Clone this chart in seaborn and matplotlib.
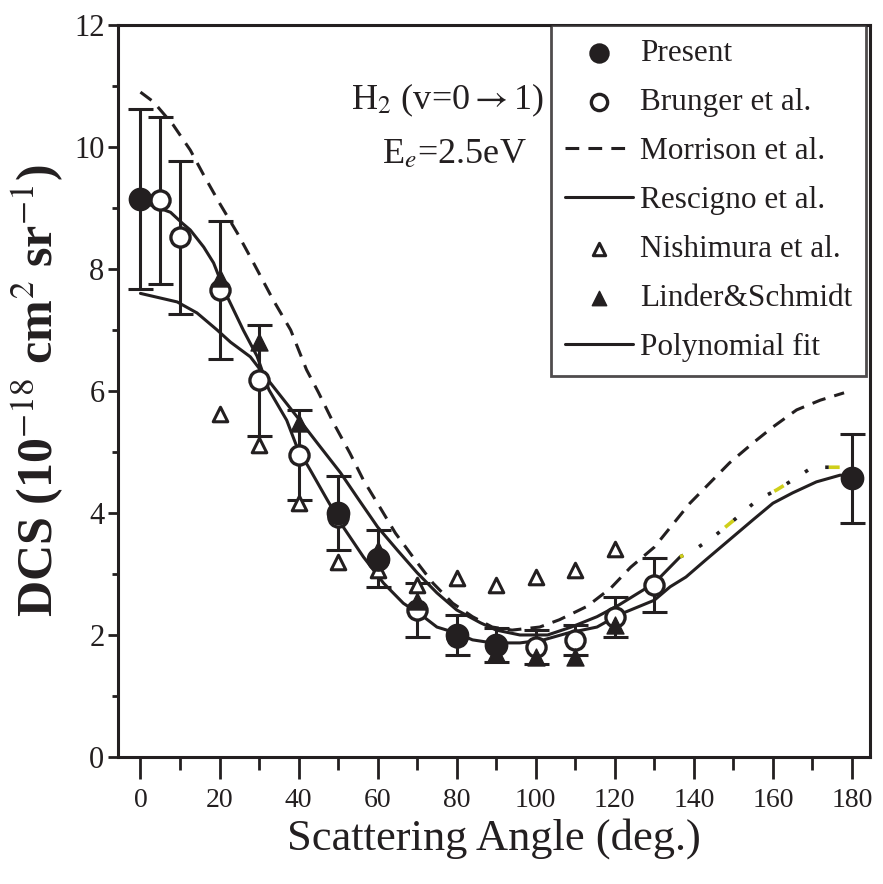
import numpy as np
import pandas as pd
import matplotlib
matplotlib.use("Agg")
import matplotlib.pyplot as plt
import seaborn as sns
from matplotlib.ticker import MultipleLocator

INK = "#231f20"
nan = np.nan

# Present (filled circles, with error bars)
present_angle = [0, 50, 60, 80, 90, 180]
present_dcs = [9.15, 4.0, 3.25, 2.0, 1.83, 4.57]
present_err = [1.47, 0.6, 0.47, 0.33, 0.28, 0.73]

# Brunger et al. (open circles)
brunger_angle = [5, 10, 20, 30, 40, 50, 60, 70, 80, 100, 110, 120, 130]
brunger_dcs = [9.13, 8.52, 7.66, 6.18, 4.95, 3.93, 3.23, 2.41, 1.97, 1.80, 1.92, 2.30, 2.82]
brunger_err = [1.37, 1.25, 1.13, 0.91, 0.74, nan, nan, 0.45, nan, 0.28, 0.25, 0.33, 0.44]

# Nishimura et al. (open triangles)
nish_angle = [20, 30, 40, 50, 60, 70, 80, 90, 100, 110, 120]
nish_dcs = [5.62, 5.11, 4.16, 3.2, 3.07, 2.82, 2.93, 2.82, 2.95, 3.07, 3.41]

# Linder & Schmidt (filled triangles)
linder_angle = [20, 30, 40, 50, 60, 70, 80, 90, 100, 110, 120]
linder_dcs = [7.85, 6.8, 5.48, 4.05, 3.4, 2.55, 2.05, 1.7, 1.64, 1.64, 2.16]

# Morrison et al. (dashed)
morrison_angle = [0, 3.3, 8.3, 12.6, 16, 20, 24.5, 28.6, 33.6, 38, 42, 45, 48.8, 53, 56.4,
                  60.7, 64.5, 69.5, 74, 79, 84, 89, 94, 101, 106, 113, 119, 124, 130, 135,
                  139, 144, 149, 155, 160, 166, 172, 178]
morrison_dcs = [10.9, 10.74, 10.36, 9.95, 9.54, 9.08, 8.59, 8.1, 7.49, 7.0, 6.35, 5.98, 5.48,
                4.98, 4.54, 4.08, 3.67, 3.23, 2.85, 2.52, 2.3, 2.13, 2.08, 2.13, 2.25, 2.47,
                2.77, 3.11, 3.44, 3.84, 4.16, 4.49, 4.82, 5.15, 5.41, 5.69, 5.85, 5.97]

# Rescigno et al. (solid)
rescigno_angle = [0, 9.3, 14.3, 19.4, 22.8, 27.8, 32.9, 39.7, 44.7, 50.6, 55, 60, 65, 70, 75,
                  80, 86, 90, 96, 103, 109, 115.5, 121, 130, 136.5]
rescigno_dcs = [7.6, 7.46, 7.28, 7.0, 6.8, 6.56, 6.13, 5.57, 5.15, 4.66, 4.24, 3.77, 3.39,
                3.02, 2.69, 2.41, 2.2, 2.08, 2.0, 2.0, 2.13, 2.3, 2.49, 2.85, 3.28]

# dotted continuation of the upper curve
dotted_angle = [136.5, 140, 145, 151, 156, 161, 165, 170, 178]
dotted_dcs = [3.28, 3.39, 3.61, 3.93, 4.21, 4.38, 4.54, 4.75, 4.75]

# Polynomial fit (solid)
poly_angle = [0, 2.5, 7.6, 10.6, 12.6, 16, 18.5, 20.2, 22, 26, 29.5, 32.5, 37, 39.6, 43, 47.3,
              51.3, 56.4, 61.5, 66.5, 71.6, 75, 80, 84, 89, 96, 102, 108, 115.5, 121, 130,
              134, 138, 143, 149, 155, 160, 165, 171, 177, 180]
poly_dcs = [9.13, 9.05, 8.93, 8.75, 8.64, 8.36, 8.1, 7.82, 7.54, 7.0, 6.57, 6.02, 5.52, 5.08,
            4.7, 4.21, 3.77, 3.28, 2.85, 2.52, 2.3, 2.13, 2.03, 1.92, 1.87, 1.87, 1.92, 2.03,
            2.13, 2.33, 2.57, 2.79, 2.95, 3.23, 3.56, 3.89, 4.16, 4.33, 4.51, 4.62, 4.6]


def main():
    sns.set_style("ticks")
    plt.rcParams["font.family"] = ["Liberation Serif", "DejaVu Serif"]
    plt.rcParams["mathtext.fontset"] = "stix"

    fig = plt.figure(figsize=(8.83, 8.84), dpi=100)
    ax = fig.add_axes([0.134, 0.1437, 0.851, 0.828])

    lw = 2.2
    # curves
    sns.lineplot(x=morrison_angle, y=morrison_dcs, ax=ax, color=INK, lw=lw,
                 dashes=(4.5, 3), label="Morrison et al.")
    sns.lineplot(x=rescigno_angle, y=rescigno_dcs, ax=ax, color=INK, lw=lw,
                 label="Rescigno et al.")
    sns.lineplot(x=dotted_angle, y=dotted_dcs, ax=ax, color=INK, lw=2.6,
                 linestyle=(0, (1, 5)))
    sns.lineplot(x=dotted_angle, y=dotted_dcs, ax=ax, color="#cfcf1a", lw=2.6,
                 linestyle=(2, (3, 14)))
    sns.lineplot(x=poly_angle, y=poly_dcs, ax=ax, color=INK, lw=lw,
                 label="Polynomial fit")

    # error bars
    ax.errorbar(present_angle, present_dcs, yerr=present_err, fmt="none",
                ecolor=INK, elinewidth=2.2, capsize=9, capthick=2.2, zorder=3)
    ax.errorbar(brunger_angle, brunger_dcs, yerr=brunger_err, fmt="none",
                ecolor=INK, elinewidth=2.2, capsize=9, capthick=2.2, zorder=3)

    # symbols
    sns.scatterplot(x=nish_angle, y=nish_dcs, ax=ax, marker="^", s=110,
                    facecolor="white", edgecolor=INK, linewidth=2.2,
                    label="Nishimura et al.", zorder=4)
    sns.scatterplot(x=brunger_angle, y=brunger_dcs, ax=ax, marker="o", s=190,
                    facecolor="white", edgecolor=INK, linewidth=2.4,
                    label="Brunger et al.", zorder=5)
    sns.scatterplot(x=present_angle, y=present_dcs, ax=ax, marker="o", s=250,
                    color=INK, edgecolor=INK, label="Present", zorder=6)
    sns.scatterplot(x=linder_angle, y=linder_dcs, ax=ax, marker="^", s=150,
                    color=INK, edgecolor=INK, label="Linder&Schmidt", zorder=7)

    ax.set_xlim(-5.6, 184.5)
    ax.set_ylim(0, 12)
    ax.xaxis.set_major_locator(MultipleLocator(20))
    ax.xaxis.set_minor_locator(MultipleLocator(10))
    ax.yaxis.set_major_locator(MultipleLocator(2))
    ax.yaxis.set_minor_locator(MultipleLocator(1))
    ax.tick_params(axis="x", which="major", length=16, width=2, pad=6,
                   labelsize=20, colors=INK, direction="out")
    ax.tick_params(axis="x", which="minor", length=9, width=2, direction="out", colors=INK)
    ax.tick_params(axis="y", which="major", length=7, width=2, pad=3,
                   labelsize=22, colors=INK, direction="out")
    ax.tick_params(axis="y", which="minor", length=4, width=2, direction="out", colors=INK)
    for sp in ax.spines.values():
        sp.set_visible(True)
        sp.set_linewidth(2.2)
        sp.set_color(INK)

    ax.set_xlabel("Scattering Angle (deg.)", fontsize=32, color=INK, labelpad=4)
    ax.set_ylabel(r"DCS (10$^{-18}$ cm$^{2}$ sr$^{-1}$)", fontsize=36,
                  fontweight="bold", color=INK, labelpad=6)

    ax.text(77.6, 10.77, r"H$_2$ (v=0$\rightarrow$1)", fontsize=26, color=INK,
            ha="center", va="center")
    ax.text(79.5, 9.87, r"E$_e$=2.5eV", fontsize=26, color=INK,
            ha="center", va="center")

    order = ["Present", "Brunger et al.", "Morrison et al.", "Rescigno et al.",
             "Nishimura et al.", "Linder&Schmidt", "Polynomial fit"]
    handles, labels = ax.get_legend_handles_labels()
    lookup = dict(zip(labels, handles))
    leg = ax.legend([lookup[k] for k in order], order, loc="upper right",
                    bbox_to_anchor=(0.995, 1.0), borderaxespad=0, fontsize=22.5,
                    frameon=True, fancybox=False, edgecolor=INK, handlelength=2.2,
                    handletextpad=0.2, labelspacing=0.64, borderpad=0.45,
                    markerscale=0.85)
    leg.get_frame().set_linewidth(2)
    for t in leg.get_texts():
        t.set_color(INK)

    fig.savefig("out.png", dpi=100)


if __name__ == "__main__":
    main()
